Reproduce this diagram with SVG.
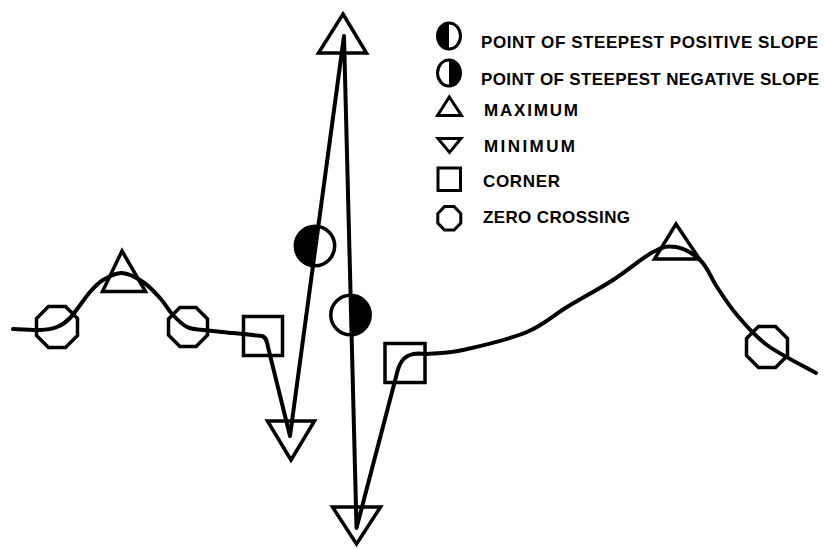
<svg xmlns="http://www.w3.org/2000/svg" xmlns:xlink="http://www.w3.org/1999/xlink" width="824" height="549" viewBox="0 0 824 549">
<style>
.bg{fill:#fff}
.curve{fill:none;stroke:#000;stroke-width:4;stroke-linejoin:round;stroke-linecap:round}
.sym{fill:none;stroke:#000;stroke-width:3.5;stroke-linejoin:miter}
.lsym{fill:none;stroke:#000;stroke-width:3;stroke-linejoin:miter}
.blk{fill:#000;stroke:none}
.lbl{font-family:"Liberation Sans",Arial,sans-serif;font-weight:bold;font-size:17px;fill:#000}
</style>
<defs>
<polygon id="oct" points="19.5,-8.1 19.5,8.1 8.1,19.5 -8.1,19.5 -19.5,8.1 -19.5,-8.1 -8.1,-19.5 8.1,-19.5"/>
<polygon id="octL" points="20.5,-8.5 20.5,8.5 8.5,20.5 -8.5,20.5 -20.5,8.5 -20.5,-8.5 -8.5,-20.5 8.5,-20.5"/>
</defs>
<rect class="bg" x="0" y="0" width="824" height="549"/>

<g id="connectors">
<path class="curve" d="M13,329 C17.5,329.2 32.7,330.3 40,330 C47.3,329.7 52,329 57,327 C62,325 64.5,323.8 70,318 C75.5,312.2 84.5,298.3 90,292 C95.5,285.7 97.7,283.2 103,280 C108.3,276.8 115.3,272.7 122,273 C128.7,273.3 136.7,277.8 143,282 C149.3,286.2 155,292.5 160,298 C165,303.5 168.5,310.2 173,315 C177.5,319.8 182,324.5 187,327 C192,329.5 195.3,329 203,330 C210.7,331 223.2,332 233,333 C242.8,334 257.2,335.5 262,336 C266,337 267,341 268,347 L290,436 L344,36 L356.5,528 L397,373 C400,361 405,354 418,353.5 L427,354 C433,353.3 446.3,353.7 463,350 C479.7,346.3 509.7,339.2 527,332 C544.3,324.8 552.7,315.7 567,307 C581.3,298.3 598.7,289.2 613,280 C627.3,270.8 642.5,257.5 653,252 C663.5,246.5 668,245.5 676,247 C684,248.5 694.2,254.3 701,261 C707.8,267.7 711,278 717,287 C723,296 728.7,305.3 737,315 C745.3,324.7 753.8,335.3 767,345 C780.2,354.7 807.8,368.3 816,373"/>
</g>

<g id="zero-crossing-1"><use xlink:href="#octL" class="sym" x="57" y="327"/></g>
<g id="maximum-1"><polygon class="sym" points="122,251 145.5,291.5 102.5,291.5"/></g>
<g id="zero-crossing-2"><use xlink:href="#oct" class="sym" x="188" y="327"/></g>
<g id="corner-1"><rect class="sym" x="243.5" y="316.5" width="39" height="39"/></g>
<g id="minimum-1"><polygon class="sym" points="267.5,421 314.5,421 291,460"/></g>
<g id="steepest-positive">
<path class="blk" d="M317.6,226.2 A20,20 0 0 0 312.4,265.8 Z"/>
<circle class="sym" cx="315" cy="246" r="19.7"/>
</g>
<g id="maximum-2"><polygon class="sym" points="343,14 366.5,53 318.5,53"/></g>
<g id="steepest-negative">
<path class="blk" d="M350,295 A20,20 0 0 1 351,335 Z"/>
<circle class="sym" cx="350.5" cy="315" r="19.7"/>
</g>
<g id="minimum-2"><polygon class="sym" points="332.5,507 380.5,507 356.5,544"/></g>
<g id="corner-2"><rect class="sym" x="385" y="343.5" width="40" height="39"/></g>
<g id="maximum-3"><polygon class="sym" points="676,224 699.5,259 654.5,259"/></g>
<g id="zero-crossing-3"><use xlink:href="#octL" class="sym" x="767" y="347"/></g>

<g id="legend">
<g id="legend-positive">
<path class="blk" d="M449,23 A11.5,13 0 0 0 449,49 Z"/>
<ellipse class="lsym" cx="449" cy="36" rx="11.5" ry="13"/>
<text class="lbl" x="481" y="48" textLength="337" lengthAdjust="spacing">POINT OF STEEPEST POSITIVE SLOPE</text>
</g>
<g id="legend-negative">
<path class="blk" d="M449,60 A11.5,13 0 0 1 449,86 Z"/>
<ellipse class="lsym" cx="449" cy="73" rx="11.5" ry="13"/>
<text class="lbl" x="481" y="85" textLength="338" lengthAdjust="spacing">POINT OF STEEPEST NEGATIVE SLOPE</text>
</g>
<g id="legend-maximum">
<polygon class="lsym" points="449.3,97 461.5,115.5 437.5,115.5"/>
<text class="lbl" x="484" y="116" textLength="94" lengthAdjust="spacing">MAXIMUM</text>
</g>
<g id="legend-minimum">
<polygon class="lsym" points="438,138.5 461,138.5 449.5,152.5"/>
<text class="lbl" x="484" y="152" textLength="91" lengthAdjust="spacing">MINIMUM</text>
</g>
<g id="legend-corner">
<rect class="lsym" x="438" y="168" width="22.5" height="22.5"/>
<text class="lbl" x="483" y="187" textLength="77" lengthAdjust="spacing">CORNER</text>
</g>
<g id="legend-zero">
<polygon class="lsym" points="460.8,213.5 460.8,223.1 454.1,230 444.5,230 437.8,223.1 437.8,213.5 444.5,206.6 454.1,206.6"/>
<text class="lbl" x="483" y="223" textLength="147" lengthAdjust="spacing">ZERO CROSSING</text>
</g>
</g>
</svg>
